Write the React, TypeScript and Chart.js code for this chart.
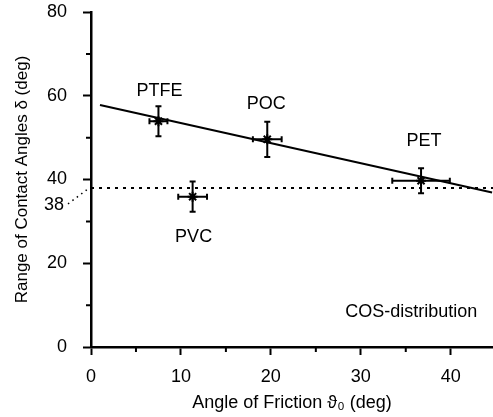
import React, { useEffect, useRef } from 'react';
import { Chart, registerables } from 'chart.js';

Chart.register(...registerables);

// ---- data ----
const materials = ['PTFE', 'POC', 'PVC', 'PET'];
const frictionAngle = [7.5, 19.6, 11.3, 36.7];
const contactRange = [53.9, 49.6, 35.9, 39.7];
const frictionErr = [1.0, 1.6, 1.6, 3.2];
const contactErr = [3.6, 4.2, 3.6, 3.0];

const fitX = [1.0, 44.6];
const fitY = [57.8, 36.9];

const thresholdX = [0, 44.7];
const thresholdValue = 38;

const xMajorTicks = [0, 10, 20, 30, 40];
const xMinorTicks = [5, 15, 25, 35];
const yMajorTicks = [0, 20, 40, 60, 80];
const yMinorTicks = [10, 30, 50, 70];

const xTitle = 'Angle of Friction \u03D1\u2080 (deg)';
const yTitle = 'Range of Contact Angles \u03B4 (deg)';
const noteText = 'COS-distribution';
const noteAt = [35.6, 8.35];

const FONT = "'Liberation Sans', Arial, Helvetica, sans-serif";

// label offsets in pixels relative to each point
const labelOffsets: Record<string, [number, number]> = {
  PTFE: [1, -30],
  POC: [-1, -35],
  PVC: [1, 40],
  PET: [3, -40],
};

export default function App() {
  const ref = useRef<HTMLCanvasElement>(null);

  useEffect(() => {
    const canvas = ref.current;
    if (!canvas) return;

    const overlay = {
      id: 'overlay',
      afterDatasetsDraw(chart: any) {
        const ctx = chart.ctx as CanvasRenderingContext2D;
        const xs = chart.scales.x;
        const ys = chart.scales.y;
        const area = chart.chartArea;
        ctx.save();
        ctx.strokeStyle = '#000';
        ctx.fillStyle = '#000';

        // error bars
        ctx.lineWidth = 2;
        const cap = 3;
        for (let i = 0; i < materials.length; i++) {
          const px = xs.getPixelForValue(frictionAngle[i]);
          const py = ys.getPixelForValue(contactRange[i]);
          const x1 = xs.getPixelForValue(frictionAngle[i] - frictionErr[i]);
          const x2 = xs.getPixelForValue(frictionAngle[i] + frictionErr[i]);
          const y1 = ys.getPixelForValue(contactRange[i] - contactErr[i]);
          const y2 = ys.getPixelForValue(contactRange[i] + contactErr[i]);
          ctx.beginPath();
          ctx.moveTo(x1, py); ctx.lineTo(x2, py);
          ctx.moveTo(x1, py - cap); ctx.lineTo(x1, py + cap);
          ctx.moveTo(x2, py - cap); ctx.lineTo(x2, py + cap);
          ctx.moveTo(px, y1); ctx.lineTo(px, y2);
          ctx.moveTo(px - cap, y1); ctx.lineTo(px + cap, y1);
          ctx.moveTo(px - cap, y2); ctx.lineTo(px + cap, y2);
          ctx.stroke();
        }

        // point labels
        ctx.font = `18px ${FONT}`;
        ctx.textAlign = 'center';
        ctx.textBaseline = 'middle';
        for (let i = 0; i < materials.length; i++) {
          const off = labelOffsets[materials[i]] || [0, 0];
          const px = xs.getPixelForValue(frictionAngle[i]) + off[0];
          const py = ys.getPixelForValue(contactRange[i]) + off[1];
          ctx.fillText(materials[i], px, py);
        }

        // note
        ctx.fillText(noteText, xs.getPixelForValue(noteAt[0]), ys.getPixelForValue(noteAt[1]));

        // minor ticks
        ctx.lineWidth = 2;
        ctx.beginPath();
        for (const v of xMinorTicks) {
          const p = xs.getPixelForValue(v);
          ctx.moveTo(p, area.bottom);
          ctx.lineTo(p, area.bottom + 5);
        }
        for (const v of yMinorTicks) {
          const p = ys.getPixelForValue(v);
          ctx.moveTo(area.left, p);
          ctx.lineTo(area.left - 5, p);
        }
        ctx.stroke();

        // "38" label with dotted leader
        const p38 = ys.getPixelForValue(thresholdValue);
        ctx.textAlign = 'right';
        ctx.fillText(String(thresholdValue), 64, p38 + 17);
        ctx.lineWidth = 1.5;
        ctx.setLineDash([1.5, 4]);
        ctx.beginPath();
        ctx.moveTo(68, p38 + 16);
        ctx.lineTo(area.left - 3, p38 + 1);
        ctx.stroke();
        ctx.restore();
      },
    };

    const chart = new Chart(canvas, {
      type: 'scatter',
      data: {
        datasets: [
          {
            label: 'fit',
            type: 'line',
            data: fitX.map((x, i) => ({ x, y: fitY[i] })),
            borderColor: '#000',
            borderWidth: 2,
            pointRadius: 0,
            fill: false,
          },
          {
            label: 'threshold',
            type: 'line',
            data: thresholdX.map((x) => ({ x, y: thresholdValue })),
            borderColor: '#000',
            borderWidth: 2,
            borderDash: [3, 5],
            pointRadius: 0,
            fill: false,
          },
          {
            label: 'materials',
            data: frictionAngle.map((x, i) => ({ x, y: contactRange[i] })),
            pointStyle: 'star',
            pointRadius: 5,
            borderColor: '#000',
            backgroundColor: '#000',
            borderWidth: 2,
          },
        ],
      } as any,
      options: {
        responsive: false,
        animation: false,
        layout: { autoPadding: false, padding: { top: 12, right: 0, left: 0, bottom: 0 } },
        plugins: { legend: { display: false }, tooltip: { enabled: false } },
        scales: {
          x: {
            type: 'linear',
            min: thresholdX[0],
            max: thresholdX[1],
            afterBuildTicks: (s: any) => {
              s.ticks = xMajorTicks.map((v) => ({ value: v }));
            },
            afterFit: (s: any) => {
              s.height = 70;
              s.paddingLeft = 0;
              s.paddingRight = 0;
            },
            ticks: {
              font: { family: FONT, size: 18 },
              color: '#000',
              padding: 11,
              callback: (v: any) => String(v),
            },
            grid: {
              drawOnChartArea: false,
              drawTicks: true,
              tickLength: 8,
              tickWidth: 2,
              tickColor: '#000',
            },
            border: { display: true, color: '#000', width: 2.5 },
            title: {
              display: true,
              text: xTitle,
              color: '#000',
              font: { family: FONT, size: 18 },
              padding: { top: 0, bottom: 3 },
            },
          },
          y: {
            type: 'linear',
            min: 0,
            max: 80,
            afterBuildTicks: (s: any) => {
              s.ticks = yMajorTicks.map((v) => ({ value: v }));
            },
            afterFit: (s: any) => {
              s.width = 91;
              s.paddingTop = 0;
              s.paddingBottom = 0;
            },
            ticks: {
              font: { family: FONT, size: 18 },
              color: '#000',
              padding: 16,
              callback: (v: any) => String(v),
            },
            grid: {
              drawOnChartArea: false,
              drawTicks: true,
              tickLength: 8,
              tickWidth: 2,
              tickColor: '#000',
            },
            border: { display: true, color: '#000', width: 2.5 },
            title: {
              display: true,
              text: yTitle,
              color: '#000',
              font: { family: FONT, size: 17 },
              padding: { top: 12, bottom: 0 },
            },
          },
        },
      } as any,
      plugins: [overlay],
    });

    return () => chart.destroy();
  }, []);

  return (
    <div style={{ position: 'absolute', left: 0, top: 0, width: 493, height: 417, background: '#fff' }}>
      <canvas ref={ref} width={493} height={417} style={{ display: 'block' }} />
    </div>
  );
}
